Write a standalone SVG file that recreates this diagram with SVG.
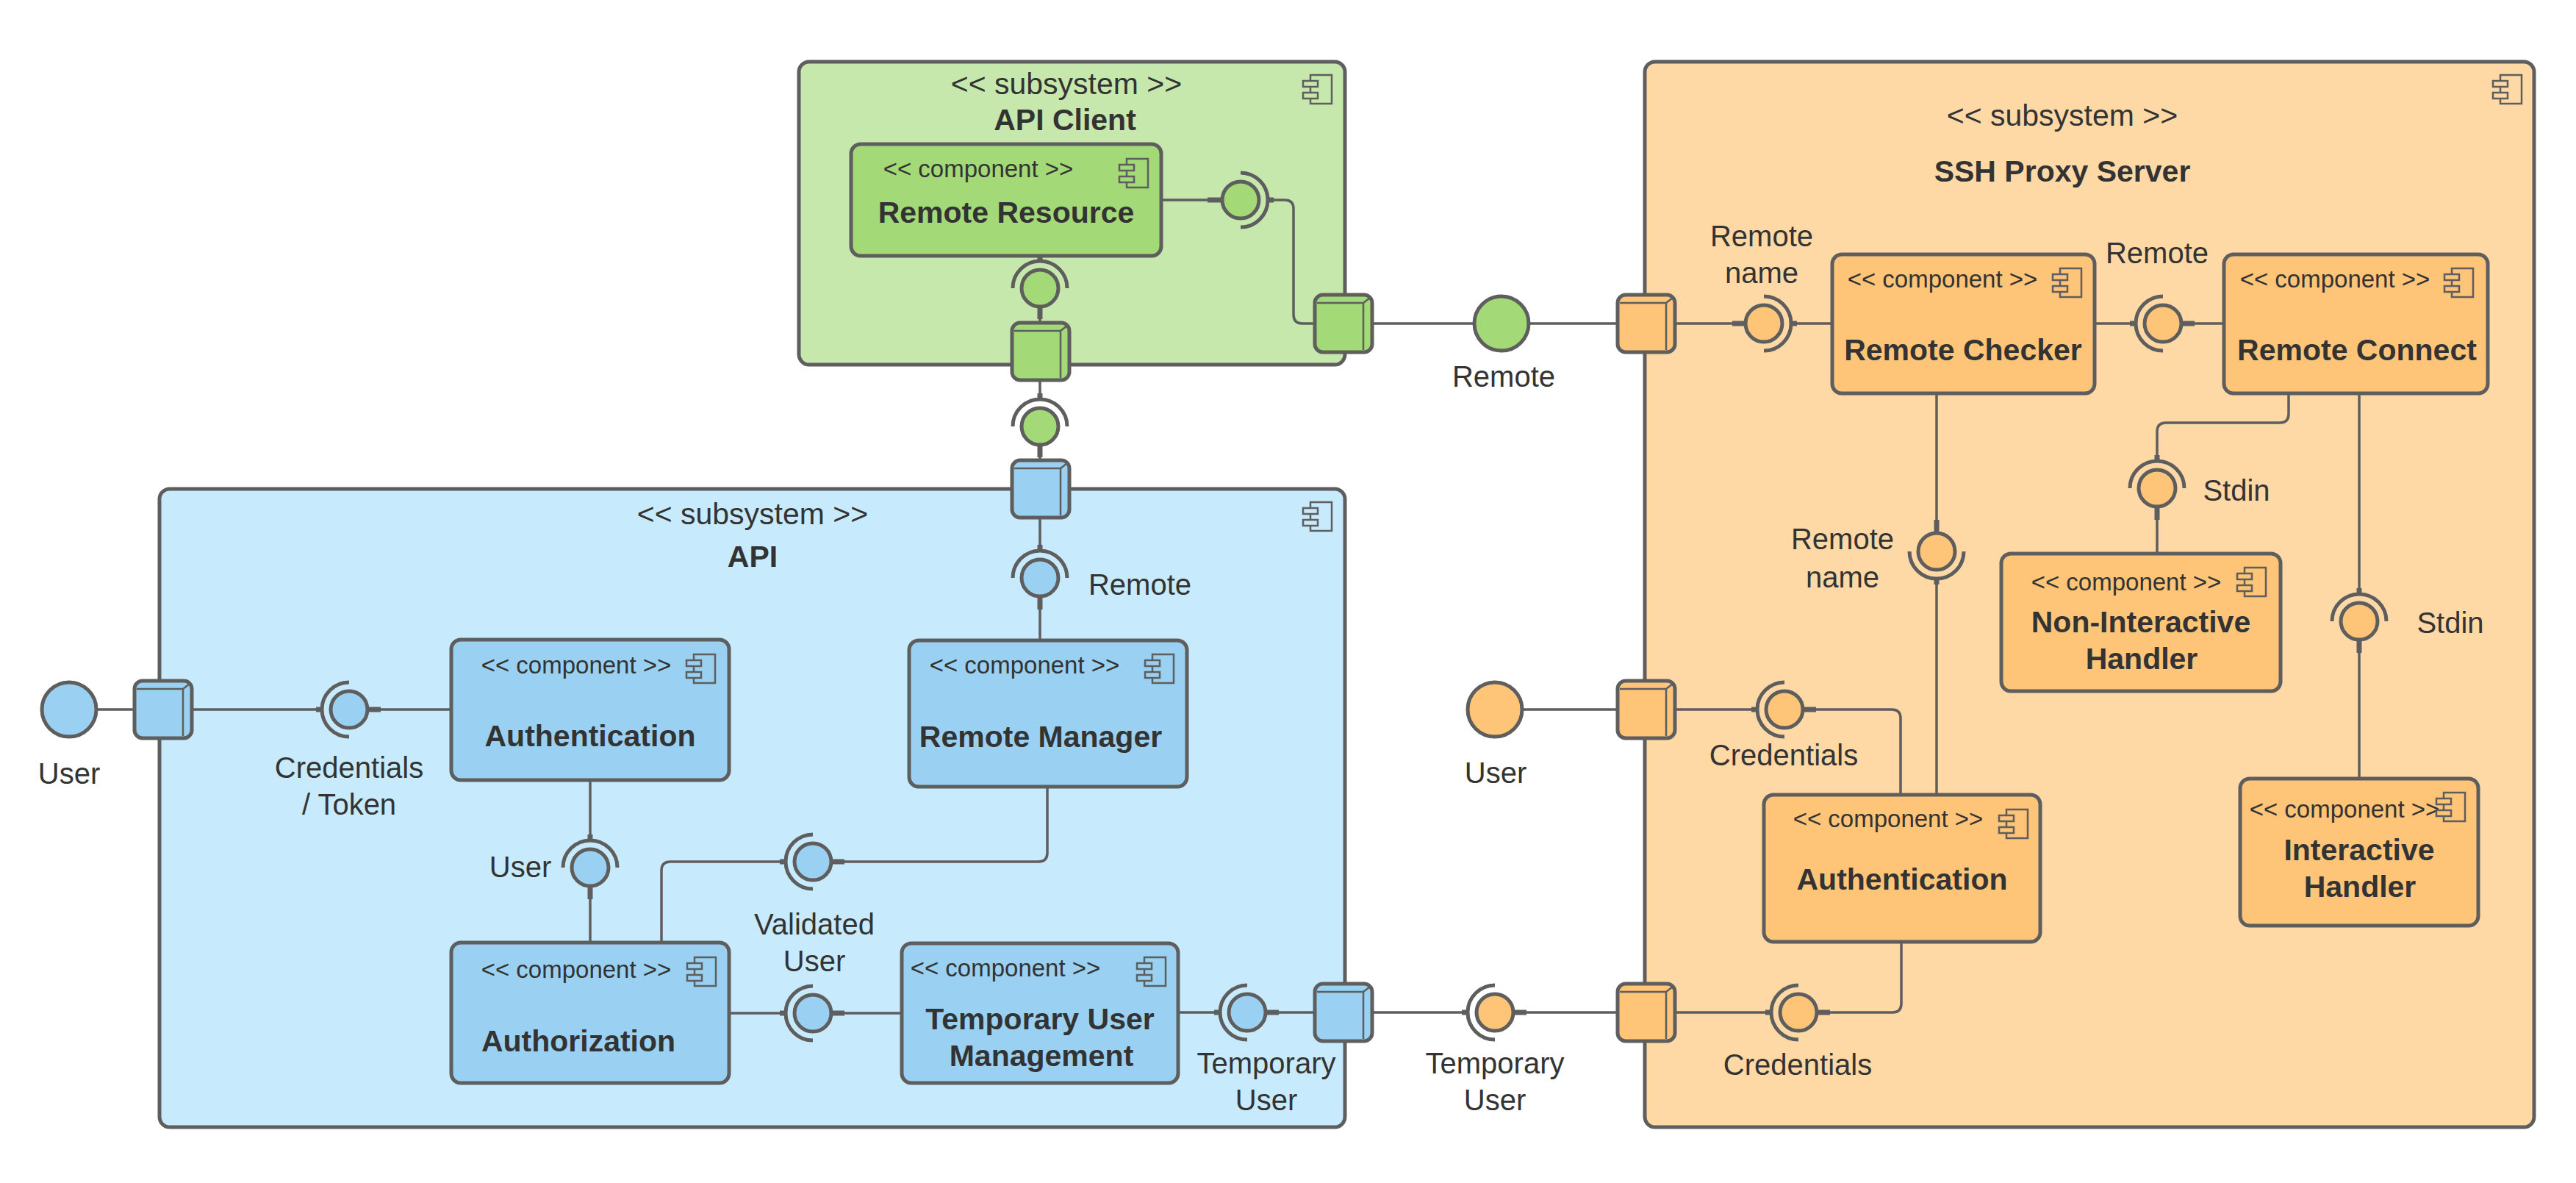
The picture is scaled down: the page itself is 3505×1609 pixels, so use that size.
<svg xmlns="http://www.w3.org/2000/svg" width="3505" height="1609" viewBox="0 0 3505 1609">
<style>
.sub{stroke:#5e5e5e;stroke-width:5}
.cmp{stroke:#5e5e5e;stroke-width:5}
.g1{fill:#c7e8ac}.g2{fill:#a3d977}.b1{fill:#c7ebfc}.b2{fill:#9ad1f2}.o1{fill:#fed9a6}.o2{fill:#fec478}
.ln{fill:none;stroke:#5e5e5e;stroke-width:3.5}
.stub{fill:none;stroke:#5e5e5e;stroke-width:7}
.arc{fill:none;stroke:#5e5e5e;stroke-width:5}
.ball{stroke:#5e5e5e;stroke-width:5}
.pin{fill:none;stroke:#5e5e5e;stroke-width:2.5}
.ico{stroke:#5e5e5e;stroke-width:2.5}
text{font-family:"Liberation Sans",Arial,sans-serif;fill:#333333;transform:translateY(3px)}
.lbl{font-size:40px;text-anchor:middle}
.st{font-size:33px;text-anchor:middle}
.ttl{font-size:41px;font-weight:bold;text-anchor:middle}
.sst{font-size:41px;text-anchor:middle}
</style>
<defs>
<g id="icoG"><rect x="10" y="0" width="29" height="39" fill="none" class="ico"/><rect x="0" y="8" width="20" height="8" class="ico g2"/><rect x="0" y="24" width="20" height="8" class="ico g2"/></g>
<g id="icoGs"><rect x="10" y="0" width="29" height="39" fill="none" class="ico"/><rect x="0" y="8" width="20" height="8" class="ico g1"/><rect x="0" y="24" width="20" height="8" class="ico g1"/></g>
<g id="icoB"><rect x="10" y="0" width="29" height="39" fill="none" class="ico"/><rect x="0" y="8" width="20" height="8" class="ico b2"/><rect x="0" y="24" width="20" height="8" class="ico b2"/></g>
<g id="icoBs"><rect x="10" y="0" width="29" height="39" fill="none" class="ico"/><rect x="0" y="8" width="20" height="8" class="ico b1"/><rect x="0" y="24" width="20" height="8" class="ico b1"/></g>
<g id="icoO"><rect x="10" y="0" width="29" height="39" fill="none" class="ico"/><rect x="0" y="8" width="20" height="8" class="ico o2"/><rect x="0" y="24" width="20" height="8" class="ico o2"/></g>
<g id="icoOs"><rect x="10" y="0" width="29" height="39" fill="none" class="ico"/><rect x="0" y="8" width="20" height="8" class="ico o1"/><rect x="0" y="24" width="20" height="8" class="ico o1"/></g>
<path id="portPin" d="M3,11 H66 V75 M66,11 L75,4" class="pin"/>
</defs>

<!-- Subsystems -->
<g id="sub-api-client">
<rect x="1087" y="84" width="743" height="412" rx="14" class="sub g1"/>
<use href="#icoGs" x="1773" y="102"/>
<text x="1451" y="125" class="sst">&lt;&lt; subsystem &gt;&gt;</text>
<text x="1449" y="174" class="ttl">API Client</text>
</g>
<g id="sub-api">
<rect x="217" y="665" width="1613" height="868" rx="14" class="sub b1"/>
<use href="#icoBs" x="1773" y="683"/>
<text x="1024" y="710" class="sst">&lt;&lt; subsystem &gt;&gt;</text>
<text x="1024" y="768" class="ttl">API</text>
</g>
<g id="sub-ssh">
<rect x="2238" y="84" width="1210" height="1449" rx="14" class="sub o1"/>
<use href="#icoOs" x="3392" y="102"/>
<text x="2806" y="168" class="sst">&lt;&lt; subsystem &gt;&gt;</text>
<text x="2806" y="244" class="ttl">SSH Proxy Server</text>
</g>

<!-- Connectors -->
<g id="connectors">
<path class="ln" d="M1580,272 H1661"/><path class="stub" d="M1643,272 H1662"/>
<path class="ln" d="M1725,272 H1748 Q1760,272 1760,284 V428 Q1760,440 1772,440 H1789"/><path class="stub" d="M1725,272 H1733"/>
<path class="ln" d="M1415,348 V355"/><path class="stub" d="M1415,349 V355"/>
<path class="ln" d="M1415,417 V439"/><path class="stub" d="M1415,417 V434"/>
<path class="ln" d="M1415,517 V543"/><path class="stub" d="M1415,535 V543"/>
<path class="ln" d="M1415,605 V626"/><path class="stub" d="M1415,605 V622"/>
<path class="ln" d="M1415,704 V749"/><path class="stub" d="M1415,741 V749"/>
<path class="ln" d="M1415,811 V871"/><path class="stub" d="M1415,811 V829"/>
<path class="ln" d="M131,965 H183"/>
<path class="ln" d="M261,965 H438"/><path class="stub" d="M430,965 H438"/>
<path class="ln" d="M500,965 H614"/><path class="stub" d="M500,965 H518"/>
<path class="ln" d="M803,1061 V1143"/><path class="stub" d="M803,1135 V1143"/>
<path class="ln" d="M803,1205 V1282"/><path class="stub" d="M803,1205 V1223"/>
<path class="ln" d="M900,1282 V1184 Q900,1172 912,1172 H1069"/><path class="stub" d="M1061,1172 H1069"/>
<path class="ln" d="M1131,1172 H1413 Q1425,1172 1425,1160 V1070"/><path class="stub" d="M1131,1172 H1149"/>
<path class="ln" d="M992,1378 H1069"/><path class="stub" d="M1061,1378 H1069"/>
<path class="ln" d="M1131,1378 H1227"/><path class="stub" d="M1131,1378 H1149"/>
<path class="ln" d="M1603,1377 H1660"/><path class="stub" d="M1652,1377 H1660"/>
<path class="ln" d="M1722,1377 H1789"/><path class="stub" d="M1722,1377 H1740"/>
<path class="ln" d="M1867,1377 H1997"/><path class="stub" d="M1989,1377 H1997"/>
<path class="ln" d="M2059,1377 H2201"/><path class="stub" d="M2059,1377 H2077"/>
<path class="ln" d="M1867,440 H2006"/>
<path class="ln" d="M2080,440 H2201"/>
<path class="ln" d="M2279,440 H2375"/><path class="stub" d="M2357,440 H2375"/>
<path class="ln" d="M2437,440 H2493"/><path class="stub" d="M2437,440 H2445"/>
<path class="ln" d="M2850,440 H2906"/><path class="stub" d="M2898,440 H2906"/>
<path class="ln" d="M2968,440 H3026"/><path class="stub" d="M2968,440 H2986"/>
<path class="ln" d="M2635,535 V725"/><path class="stub" d="M2635,707 V725"/>
<path class="ln" d="M2635,787 V1081"/><path class="stub" d="M2635,787 V795"/>
<path class="ln" d="M3114,535 V563 Q3114,575 3102,575 H2947 Q2935,575 2935,587 V627"/><path class="stub" d="M2935,619 V627"/>
<path class="ln" d="M2935,689 V753"/><path class="stub" d="M2935,689 V707"/>
<path class="ln" d="M3210,535 V808"/><path class="stub" d="M3210,800 V808"/>
<path class="ln" d="M3210,870 V1059"/><path class="stub" d="M3210,870 V888"/>
<path class="ln" d="M2071,965 H2201"/>
<path class="ln" d="M2279,965 H2391"/><path class="stub" d="M2383,965 H2391"/>
<path class="ln" d="M2453,965 H2574 Q2586,965 2586,977 V1081"/><path class="stub" d="M2453,965 H2471"/>
<path class="ln" d="M2279,1377 H2410"/><path class="stub" d="M2402,1377 H2410"/>
<path class="ln" d="M2472,1377 H2575 Q2587,1377 2587,1365 V1281"/><path class="stub" d="M2472,1377 H2490"/>
</g>

<!-- Ports -->
<g id="port-apiclient-right"><rect x="1789" y="401" width="78" height="78" rx="11" class="cmp g2"/><use href="#portPin" x="1789" y="401"/></g>
<g id="port-apiclient-bottom"><rect x="1377" y="439" width="78" height="78" rx="11" class="cmp g2"/><use href="#portPin" x="1377" y="439"/></g>
<g id="port-api-top"><rect x="1377" y="626" width="78" height="78" rx="11" class="cmp b2"/><use href="#portPin" x="1377" y="626"/></g>
<g id="port-api-left"><rect x="183" y="926" width="78" height="78" rx="11" class="cmp b2"/><use href="#portPin" x="183" y="926"/></g>
<g id="port-api-right"><rect x="1789" y="1338" width="78" height="78" rx="11" class="cmp b2"/><use href="#portPin" x="1789" y="1338"/></g>
<g id="port-ssh-top"><rect x="2201" y="401" width="78" height="78" rx="11" class="cmp o2"/><use href="#portPin" x="2201" y="401"/></g>
<g id="port-ssh-mid"><rect x="2201" y="926" width="78" height="78" rx="11" class="cmp o2"/><use href="#portPin" x="2201" y="926"/></g>
<g id="port-ssh-bottom"><rect x="2201" y="1338" width="78" height="78" rx="11" class="cmp o2"/><use href="#portPin" x="2201" y="1338"/></g>

<!-- External interfaces -->
<g id="user-api"><circle cx="94" cy="965" r="37" class="ball b2"/><text x="94" y="1063" class="lbl">User</text></g>
<g id="remote-iface"><circle cx="2043" cy="440" r="37" class="ball g2"/><text x="2046" y="523" class="lbl">Remote</text></g>
<g id="user-ssh"><circle cx="2034" cy="965" r="37" class="ball o2"/><text x="2035" y="1062" class="lbl">User</text></g>

<!-- Ball and socket interfaces -->
<g id="if-rr-right"><circle cx="1688" cy="272" r="25" class="ball g2"/><path class="arc" d="M1688,235 A37,37 0 0 1 1688,309"/></g>
<g id="if-rr-bottom"><circle cx="1415" cy="392" r="25" class="ball g2"/><path class="arc" d="M1378,392 A37,37 0 0 1 1452,392"/></g>
<g id="if-client-api"><circle cx="1415" cy="580" r="25" class="ball g2"/><path class="arc" d="M1378,580 A37,37 0 0 1 1452,580"/></g>
<g id="if-api-remote"><circle cx="1415" cy="786" r="25" class="ball b2"/><path class="arc" d="M1378,786 A37,37 0 0 1 1452,786"/><text x="1551" y="806" class="lbl">Remote</text></g>
<g id="if-cred-token"><circle cx="475" cy="965" r="25" class="ball b2"/><path class="arc" d="M475,928 A37,37 0 0 0 475,1002"/><text x="475" y="1055" class="lbl">Credentials</text><text x="475" y="1105" class="lbl">/ Token</text></g>
<g id="if-user"><circle cx="803" cy="1180" r="25" class="ball b2"/><path class="arc" d="M766,1180 A37,37 0 0 1 840,1180"/><text x="708" y="1190" class="lbl">User</text></g>
<g id="if-valid-upper"><circle cx="1106" cy="1172" r="25" class="ball b2"/><path class="arc" d="M1106,1135 A37,37 0 0 0 1106,1209"/></g>
<g id="if-valid-lower"><circle cx="1106" cy="1378" r="25" class="ball b2"/><path class="arc" d="M1106,1341 A37,37 0 0 0 1106,1415"/><text x="1108" y="1268" class="lbl">Validated</text><text x="1108" y="1318" class="lbl">User</text></g>
<g id="if-temp-api"><circle cx="1697" cy="1377" r="25" class="ball b2"/><path class="arc" d="M1697,1340 A37,37 0 0 0 1697,1414"/><text x="1723" y="1457" class="lbl">Temporary</text><text x="1723" y="1507" class="lbl">User</text></g>
<g id="if-temp-ssh"><circle cx="2034" cy="1377" r="25" class="ball o2"/><path class="arc" d="M2034,1340 A37,37 0 0 0 2034,1414"/><text x="2034" y="1457" class="lbl">Temporary</text><text x="2034" y="1507" class="lbl">User</text></g>
<g id="if-rname-upper"><circle cx="2400" cy="440" r="25" class="ball o2"/><path class="arc" d="M2400,403 A37,37 0 0 1 2400,477"/><text x="2397" y="332" class="lbl">Remote</text><text x="2397" y="382" class="lbl">name</text></g>
<g id="if-remote-ssh"><circle cx="2943" cy="440" r="25" class="ball o2"/><path class="arc" d="M2943,403 A37,37 0 0 0 2943,477"/><text x="2935" y="355" class="lbl">Remote</text></g>
<g id="if-rname-lower"><circle cx="2635" cy="750" r="25" class="ball o2"/><path class="arc" d="M2598,750 A37,37 0 0 0 2672,750"/><text x="2507" y="744" class="lbl">Remote</text><text x="2507" y="796" class="lbl">name</text></g>
<g id="if-stdin-ni"><circle cx="2935" cy="664" r="25" class="ball o2"/><path class="arc" d="M2898,664 A37,37 0 0 1 2972,664"/><text x="3043" y="678" class="lbl">Stdin</text></g>
<g id="if-stdin-i"><circle cx="3210" cy="845" r="25" class="ball o2"/><path class="arc" d="M3173,845 A37,37 0 0 1 3247,845"/><text x="3334" y="858" class="lbl">Stdin</text></g>
<g id="if-cred-upper"><circle cx="2428" cy="965" r="25" class="ball o2"/><path class="arc" d="M2428,928 A37,37 0 0 0 2428,1002"/><text x="2427" y="1038" class="lbl">Credentials</text></g>
<g id="if-cred-lower"><circle cx="2447" cy="1377" r="25" class="ball o2"/><path class="arc" d="M2447,1340 A37,37 0 0 0 2447,1414"/><text x="2446" y="1459" class="lbl">Credentials</text></g>

<!-- Components -->
<g id="cmp-remote-resource"><rect x="1158" y="196" width="422" height="152" rx="13" class="cmp g2"/><use href="#icoG" x="1523" y="216"/><text x="1331" y="238" class="st">&lt;&lt; component &gt;&gt;</text><text x="1369" y="300" class="ttl">Remote Resource</text></g>
<g id="cmp-authentication-api"><rect x="614" y="870" width="378" height="191" rx="13" class="cmp b2"/><use href="#icoB" x="934" y="890"/><text x="784" y="913" class="st">&lt;&lt; component &gt;&gt;</text><text x="803" y="1012" class="ttl">Authentication</text></g>
<g id="cmp-remote-manager"><rect x="1237" y="871" width="378" height="199" rx="13" class="cmp b2"/><use href="#icoB" x="1558" y="890"/><text x="1394" y="913" class="st">&lt;&lt; component &gt;&gt;</text><text x="1416" y="1013" class="ttl">Remote Manager</text></g>
<g id="cmp-authorization"><rect x="614" y="1282" width="378" height="191" rx="13" class="cmp b2"/><use href="#icoB" x="935" y="1302"/><text x="784" y="1327" class="st">&lt;&lt; component &gt;&gt;</text><text x="787" y="1427" class="ttl">Authorization</text></g>
<g id="cmp-temp-user-mgmt"><rect x="1227" y="1283" width="376" height="190" rx="13" class="cmp b2"/><use href="#icoB" x="1547" y="1302"/><text x="1368" y="1325" class="st">&lt;&lt; component &gt;&gt;</text><text x="1415" y="1397" class="ttl">Temporary User</text><text x="1417" y="1447" class="ttl">Management</text></g>
<g id="cmp-remote-checker"><rect x="2493" y="346" width="357" height="189" rx="13" class="cmp o2"/><use href="#icoO" x="2793" y="365"/><text x="2643" y="388" class="st">&lt;&lt; component &gt;&gt;</text><text x="2671" y="487" class="ttl">Remote Checker</text></g>
<g id="cmp-remote-connect"><rect x="3026" y="346" width="359" height="189" rx="13" class="cmp o2"/><use href="#icoO" x="3326" y="365"/><text x="3177" y="388" class="st">&lt;&lt; component &gt;&gt;</text><text x="3207" y="487" class="ttl">Remote Connect</text></g>
<g id="cmp-non-interactive"><rect x="2723" y="753" width="380" height="187" rx="13" class="cmp o2"/><use href="#icoO" x="3044" y="772"/><text x="2893" y="800" class="st">&lt;&lt; component &gt;&gt;</text><text x="2913" y="857" class="ttl">Non-Interactive</text><text x="2914" y="907" class="ttl">Handler</text></g>
<g id="cmp-interactive"><rect x="3048" y="1059" width="324" height="200" rx="13" class="cmp o2"/><text x="3190" y="1109" class="st">&lt;&lt; component &gt;&gt;</text><use href="#icoO" x="3315" y="1078"/><text x="3210" y="1167" class="ttl">Interactive</text><text x="3211" y="1217" class="ttl">Handler</text></g>
<g id="cmp-authentication-ssh"><rect x="2400" y="1081" width="376" height="200" rx="13" class="cmp o2"/><use href="#icoO" x="2720" y="1101"/><text x="2569" y="1122" class="st">&lt;&lt; component &gt;&gt;</text><text x="2588" y="1207" class="ttl">Authentication</text></g>
</svg>
